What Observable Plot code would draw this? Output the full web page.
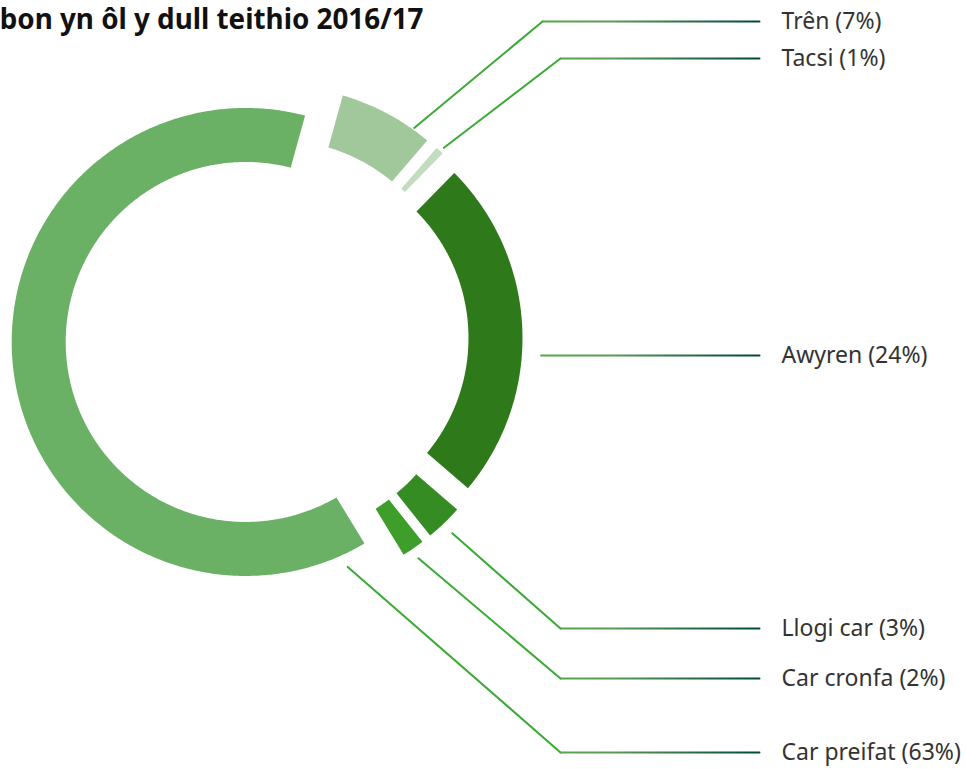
<!DOCTYPE html>
<html>
<head>
<meta charset="utf-8">
<script src="https://cdn.jsdelivr.net/npm/d3@7"></script>
<script src="https://cdn.jsdelivr.net/npm/@observablehq/plot@0.6"></script>
<style>
  html, body { margin: 0; padding: 0; background: #ffffff; }
  #chart { position: relative; width: 966px; height: 769px; overflow: hidden; }
  #chart svg { display: block; }
</style>
</head>
<body>
<div id="chart"></div>
<script>
// ---------- data ----------
const categories = ["Trên", "Tacsi", "Awyren", "Llogi car", "Car cronfa", "Car preifat"];
const shares = [7, 1, 24, 3, 2, 63];
const sliceColors = ["#a0c89b", "#c3dcc0", "#2e7a1b", "#358c23", "#3e9e2a", "#6bb165"];
const title = "Allyriadau carbon yn ôl y dull teithio 2016/17";

// ---------- layout (not data) ----------
const W = 966, H = 769;
const CX = 266.5, CY = 338.5;        // pie centre
const R_OUT = 234, R_IN = 180;       // radii
const EXPLODE = 21.5;                // slice pull-out distance
const PAD = 6.5;                     // linear gap between slices
const START_DEG = 15.5;              // angle where the first slice starts
const labelY = [21, 58, 355, 628, 678, 752];
const elbowX = [542, 560, null, 560, 560, 560];
const leaderAngle = [35.5, 42.8, 93.2, 136.4, 145.4, 155.6];
const leaderR = [236, 239, 253, 247, 245, 247];
const lineEndX = 759, labelX = 781;

const rad = d => d * Math.PI / 180;
const arcs = d3.pie().sort(null).value(d => d)
  .startAngle(rad(START_DEG)).endAngle(rad(START_DEG) + 2 * Math.PI)(shares);

// slice polygons, derived from the pie layout
const slicePts = [];
const centres = [];
arcs.forEach((a, i) => {
  const mid = (a.startAngle + a.endAngle) / 2;
  const cx = CX + EXPLODE * Math.sin(mid);
  const cy = CY - EXPLODE * Math.cos(mid);
  centres.push([cx, cy]);
  const ring = [];
  const edge = (rho, from, to) => {
    const n = Math.max(2, Math.ceil(Math.abs(to - from) / rad(0.5)) + 1);
    for (let k = 0; k < n; k++) {
      const t = from + (to - from) * k / (n - 1);
      ring.push([cx + rho * Math.sin(t), cy - rho * Math.cos(t)]);
    }
  };
  edge(R_OUT, a.startAngle + PAD / 2 / R_OUT, a.endAngle - PAD / 2 / R_OUT);
  edge(R_IN, a.endAngle - PAD / 2 / R_IN, a.startAngle + PAD / 2 / R_IN);
  ring.forEach(([x, y], k) => slicePts.push({cat: categories[i], color: sliceColors[i], x, y, k}));
});

// leader lines
const diagPts = [];
const horizPts = [];
const labelRows = [];
categories.forEach((c, i) => {
  const [cx, cy] = centres[i];
  const ang = rad(leaderAngle[i]);
  const ax = cx + leaderR[i] * Math.sin(ang);
  const ay = cy - leaderR[i] * Math.cos(ang);
  let hx = ax;
  if (elbowX[i] !== null) {
    diagPts.push({cat: c, x: ax, y: ay});
    diagPts.push({cat: c, x: elbowX[i], y: labelY[i]});
    hx = elbowX[i];
  }
  horizPts.push({cat: c, x: hx, y: labelY[i]});
  horizPts.push({cat: c, x: lineEndX, y: labelY[i]});
  labelRows.push({text: `${c} (${shares[i]}%)`, x: labelX, y: labelY[i]});
});

const plot = Plot.plot({
  width: W,
  height: H,
  margin: 0,
  style: {fontFamily: "'Noto Sans', sans-serif", background: "#ffffff", overflow: "hidden"},
  x: {domain: [0, W], range: [0, W], axis: null},
  y: {domain: [0, H], range: [0, H], axis: null},
  color: {type: "identity"},
  marks: [
    Plot.line(slicePts, {x: "x", y: "y", z: "cat", fill: "color", stroke: "none", curve: "linear-closed"}),
    Plot.line(diagPts, {x: "x", y: "y", z: "cat", stroke: "#3aaa35", strokeWidth: 2}),
    Plot.line(horizPts, {x: "x", y: "y", z: "cat", stroke: "url(#leadGrad)", strokeWidth: 2}),
    Plot.text(labelRows, {x: "x", y: "y", text: "text", textAnchor: "start", lineAnchor: "middle", fontSize: 23, fill: "#333333"}),
    Plot.text([title], {x: () => 423, y: () => 20, text: d => d, textAnchor: "end", lineAnchor: "middle", fontSize: 27.8, fontWeight: "bold", fill: "#111111"})
  ]
});

const svg = d3.select(plot);
const defs = svg.insert("defs", ":first-child");
const g = defs.append("linearGradient").attr("id", "leadGrad")
  .attr("gradientUnits", "userSpaceOnUse")
  .attr("x1", 545).attr("x2", lineEndX).attr("y1", 0).attr("y2", 0);
g.append("stop").attr("offset", "0").attr("stop-color", "#55a84a");
g.append("stop").attr("offset", "0.3").attr("stop-color", "#5b9a55");
g.append("stop").attr("offset", "1").attr("stop-color", "#00473a");

document.getElementById("chart").appendChild(plot);
</script>
</body>
</html>
